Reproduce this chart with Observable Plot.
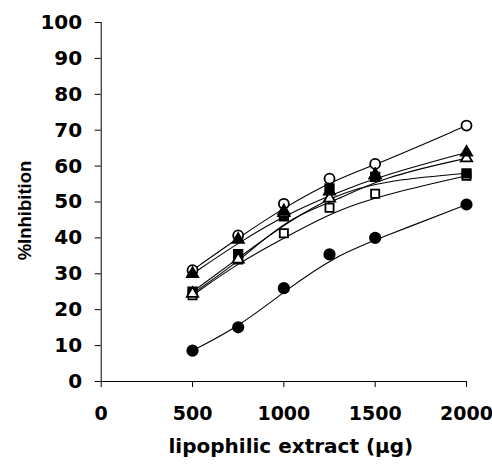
<!DOCTYPE html>
<html>
<head>
<meta charset="utf-8">
<script src="https://cdn.jsdelivr.net/npm/d3@7"></script>
<script src="https://cdn.jsdelivr.net/npm/@observablehq/plot@0.6"></script>
<style>
  html, body { margin: 0; padding: 0; background: white; }
  #chart svg { display: block; }
</style>
</head>
<body>
<div id="chart"></div>
<script>
const doses = [500, 750, 1000, 1250, 1500, 2000];
const openCircle     = [31, 40.7, 49.5, 56.5, 60.6, 71.3];
const filledTriangle = [30, 39.5, 47.5, 53, 57.5, 63.8];
const openTriangle   = [24.5, 34, 47, 51, 57.5, 62.2];
const filledSquare   = [25, 35.5, 46, 53.8, 57, 58];
const openSquare     = [24, 34, 41.3, 48.4, 52.3, 57.3];
const filledCircle   = [8.6, 15.1, 26, 35.4, 40, 49.3];
const xTicks = [0, 500, 1000, 1500, 2000];
const yTicks = [0, 10, 20, 30, 40, 50, 60, 70, 80, 90, 100];

const seriesList = [
  {name: "openCircle", values: openCircle, symbol: "circle", r: 5, fill: "white"},
  {name: "openSquare", values: openSquare, symbol: "square", r: 4.6, fill: "white"},
  {name: "filledSquare", values: filledSquare, symbol: "square", r: 4.8, fill: "black"},
  {name: "openTriangle", values: openTriangle, symbol: "triangle", r: 4.2, fill: "white"},
  {name: "filledTriangle", values: filledTriangle, symbol: "triangle", r: 4.2, fill: "black"},
  {name: "filledCircle", values: filledCircle, symbol: "circle", r: 5.2, fill: "black"}
];
const rows = seriesList.flatMap(s => doses.map((d, i) => ({series: s.name, dose: d, value: s.values[i]})));

const dotMarks = seriesList.map(s =>
  Plot.dot(rows.filter(r => r.series === s.name), {
    x: "dose", y: "value", symbol: s.symbol, r: s.r,
    fill: s.fill, stroke: "black", strokeWidth: 1.8
  })
);

const chart = Plot.plot({
  width: 492,
  height: 464,
  marginLeft: 100.7,
  marginRight: 26,
  marginTop: 22,
  marginBottom: 83,
  style: {background: "white", fontFamily: "DejaVu Sans", color: "black"},
  x: {domain: [0, 2000]},
  y: {domain: [0, 100]},
  marks: [
    Plot.axisX({ticks: xTicks, tickSize: 6, tickPadding: 19, fontSize: 19, fontWeight: "bold", tickFormat: "d", label: null}),
    Plot.axisY({ticks: yTicks, tickSize: 6, tickPadding: 13, fontSize: 20, fontWeight: "bold", tickFormat: "d", label: null}),
    Plot.ruleX([0], {stroke: "black"}),
    Plot.ruleY([0], {stroke: "black"}),
    Plot.line(rows, {x: "dose", y: "value", z: "series", curve: "bundle", tension: 0.8, stroke: "black", strokeWidth: 1.1}),
    ...dotMarks,
    Plot.text(["%Inhibition"], {frameAnchor: "left", textAnchor: "middle", dx: -75.7, dy: 8.5, rotate: -90, fontSize: 18.5, fontWeight: "bold", fontFamily: "Liberation Sans", fill: "black"}),
    Plot.text(["lipophilic extract (μg)"], {frameAnchor: "bottom", textAnchor: "middle", dx: 7, dy: 71, fontSize: 20, fontWeight: "bold", fill: "black"})
  ]
});
document.getElementById("chart").appendChild(chart);
</script>
</body>
</html>
